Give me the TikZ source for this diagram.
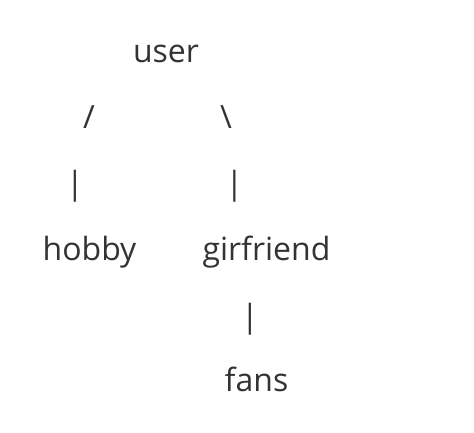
\documentclass[tikz,border=0pt]{standalone}
\usepackage{fontspec}
\setmainfont{Open Sans}
\definecolor{txtgray}{HTML}{333333}
\tikzset{word/.style={anchor=base,inner sep=0pt,text=txtgray,font=\fontsize{32bp}{38bp}\selectfont}}
\begin{document}
\begin{tikzpicture}[x=1bp,y=-1bp]
		\useasboundingbox(0, 0) rectangle (474, 432);
		\node[word] (user) at (166, 62) {user};
		\node[word] (slashl) at (89, 128) {/};
		\node[word] (slashr) at (226, 128) {\textbackslash};
		\node[word] (barl) at (75, 194) {|};
		\node[word] (barr) at (234.5, 194) {|};
		\node[word] (hobby) at (89.5, 260) {hobby};
		\node[word] (girl) at (266.5, 260) {girfriend};
		\node[word] (barf) at (250, 327) {|};
		\node[word] (fans) at (256.5, 391) {fans};
	\end{tikzpicture}
\end{document}
